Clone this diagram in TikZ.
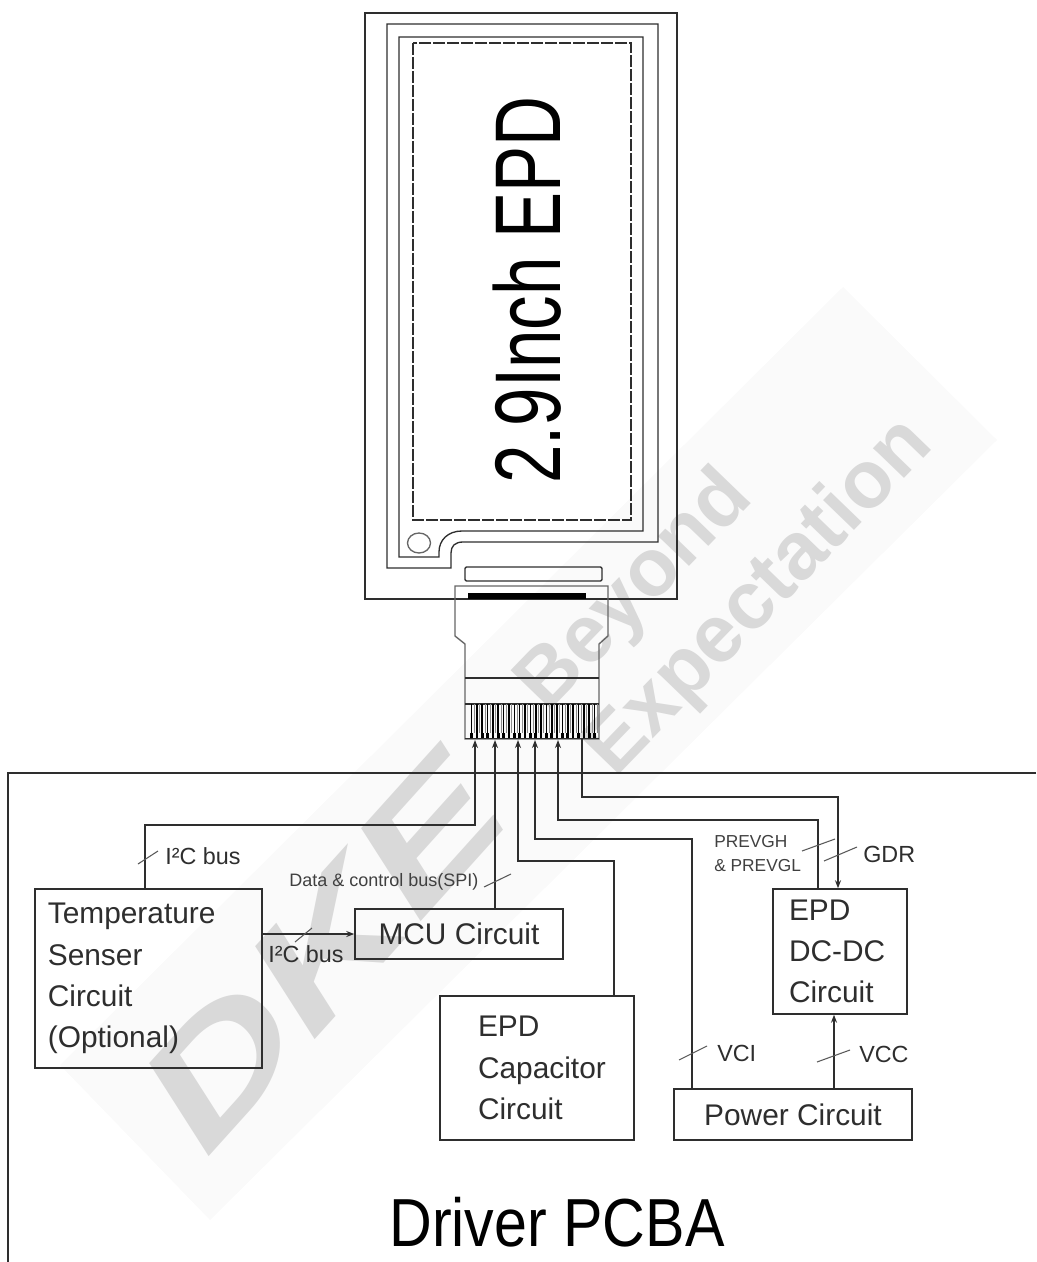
\documentclass[tikz,border=0pt]{standalone}
\usepackage{fontspec}
\setmainfont{Liberation Sans}
\usepackage{xcolor}
\usetikzlibrary{arrows.meta}
\definecolor{black90}{HTML}{2E2E2E}
\definecolor{stamp}{HTML}{D9D9D9}
\definecolor{band}{HTML}{FAFAFA}

\begin{document}
\begin{tikzpicture}[
    x=0.75pt, y=-0.75pt,
    circuit/.style={rectangle, draw=black90, line width=1.1pt, inner sep=0pt, text=black90, font=\fontsize{22.4}{31}\selectfont},
    stampnode/.style={text=stamp, rotate=46, inner sep=0pt, font=\fontsize{61}{61}\selectfont\bfseries},
    wire/.style={draw=black90, line width=1.1pt},
    tick/.style={draw=black!65, line width=0.8pt},
    panel/.style={draw=black90, line width=1pt},
    buslabel/.style={text=black90, inner sep=0pt, font=\fontsize{17.5}{20}\selectfont},
    smalllabel/.style={text=black!75, inner sep=0pt, font=\fontsize{13.5}{18}\selectfont},
    >={Stealth[length=6pt, width=4.5pt]}
]
    \useasboundingbox (0,0) rectangle (1036,1262);

    % watermark
    \fill[band] (843,287) -- (997,440) -- (210,1220) -- (60,1065) -- cycle;
    \node[stampnode, rotate=2, xscale=1.42, font=\fontsize{116}{116}\selectfont\bfseries\itshape] (stampDKE) at (322,952) {DKE};
    \node[stampnode] (stampBeyond) at (636,592) {Beyond};
    \node[stampnode] (stampExpect) at (760,598) {Expectation};

    % EPD panel outlines
    \draw[panel] (365,13) rectangle (677,599);
    \draw[panel] (387,24) -- (658,24) -- (658,542) -- (463,542) .. controls (455,542) and (451,546) .. (451,553) -- (451,568) -- (387,568) -- cycle;
    \draw[panel] (399,37) -- (643,37) -- (643,531) -- (462,531) .. controls (448,531) and (439,540) .. (439,552) -- (439,557) -- (399,557) -- cycle;
    \draw[panel, dashed, dash pattern=on 9pt off 1.5pt, line width=0.8pt] (413,43) rectangle (631,520);
    \draw[panel, draw=black!60] (419,543) ellipse (11.5 and 10);
    \node[text=black, inner sep=0pt, rotate=90, xscale=0.74, font=\fontsize{70}{70}\selectfont] (epdtitle) at (527,290) {2.9Inch EPD};

    % flex cable
    \draw[panel, rounded corners=1pt] (465,567) rectangle (602,581);
    \draw[panel, draw=black!60] (465,739) -- (465,644) -- (455,636) -- (455,586) -- (608,586) -- (608,636) -- (599,644) -- (599,739) -- cycle;
    \fill[black] (468,593) rectangle (586,599);
    \draw[panel] (465,678) -- (599,678);
    \draw[panel, line width=1.6pt] (465,704) -- (599,704);
    \foreach \i in {0,...,23} {
        \draw[black, line width=1.2pt] (471.5+5.35*\i,704) -- (471.5+5.35*\i,733);
        \draw[black, line width=2pt] (471.5+5.35*\i,733) -- (471.5+5.35*\i,738);
        \draw[black!45, line width=0.5pt] (474.2+5.35*\i,704) -- (474.2+5.35*\i,733);
    }
    \draw[panel, line width=0.9pt] (465,738.5) -- (599,738.5);

    % driver board
    \coordinate (boardNE) at (1036,773);
    \coordinate (boardNW) at (8,773);
    \coordinate (boardSW) at (8,1262);
    \draw[wire] (boardNE) -- (boardNW) -- (boardSW);
    \node[text=black, inner sep=0pt, xscale=0.87, font=\fontsize{51}{51}\selectfont] (boardtitle) at (557,1222) {Driver PCBA};

    % circuits
    \node[circuit, minimum width=170.25pt, minimum height=134.25pt, text width=151pt, inner xsep=9.6pt, align=left] (tempbox) at (148.5,978.5) {Temperature\\Senser\\Circuit\\(Optional)};
    \node[circuit, minimum width=156pt, minimum height=37.5pt] (mcubox) at (459,934) {MCU Circuit};
    \node[circuit, minimum width=145.5pt, minimum height=108pt, text width=88.5pt, inner xsep=28.5pt, align=left] (capbox) at (537,1068) {EPD\\\mbox{Capacitor}\\Circuit};
    \node[circuit, minimum width=178.5pt, minimum height=38.25pt] (pwrbox) at (793,1114.5) {Power Circuit};
    \node[circuit, minimum width=100.5pt, minimum height=93.75pt, text width=76.5pt, inner xsep=12pt, align=left] (dcbox) at (840,951.5) {EPD\\DC-DC\\Circuit};

    % pins and wire bends
    \coordinate (pinA) at (475,740);
    \coordinate (pinB) at (495,740);
    \coordinate (pinC) at (518,740);
    \coordinate (pinD) at (535,740);
    \coordinate (pinE) at (558,740);
    \coordinate (pinF) at (582,739);
    \coordinate (busT) at (145,825);
    \coordinate (busC) at (614,861);
    \coordinate (busP) at (692,839);
    \coordinate (busV) at (818,820);
    \coordinate (busG) at (838,797);
    \coordinate (busS) at (834,1050);

    \draw[wire, ->] (tempbox.north -| busT) -- (busT) -- (pinA |- busT) -- (pinA);
    \draw[wire, ->] (mcubox.north -| pinB) -- (pinB);
    \draw[wire, ->] (capbox.north -| busC) -- (busC) -- (pinC |- busC) -- (pinC);
    \draw[wire, ->] (pwrbox.north -| busP) -- (busP) -- (pinD |- busP) -- (pinD);
    \draw[wire, ->] (dcbox.north -| busV) -- (busV) -- (pinE |- busV) -- (pinE);
    \draw[wire, ->] (pinF) -- (pinF |- busG) -- (busG) -- (dcbox.north -| busG);
    \draw[wire, ->] (pwrbox.north -| busS) -- (dcbox.south -| busS);
    \draw[wire, ->] (mcubox.west -| tempbox.east) -- (mcubox.west);

    % slashes on the buses
    \draw[tick] (138,864) -- (158,851);
    \draw[tick] (484,887) -- (511,874);
    \draw[tick] (295,942) -- (312,928);
    \draw[tick] (802,851) -- (835,839);
    \draw[tick] (824,861) -- (857,847);
    \draw[tick] (679,1060) -- (707,1046);
    \draw[tick] (817,1062) -- (850,1050);

    \node[buslabel, anchor=west] (i2cA) at (165,856) {I²C bus};
    \node[buslabel, anchor=west] (i2cB) at (268,954) {I²C bus};
    \node[smalllabel, anchor=west] (spi) at (289,882) {Data \& control bus(SPI)};
    \node[smalllabel, anchor=west, font=\fontsize{13}{18}\selectfont, align=left] (prev) at (714,854) {PREVGH\\\& PREVGL};
    \node[buslabel, anchor=west] (gdr) at (863,854) {GDR};
    \node[buslabel, anchor=west] (vci) at (717,1053) {VCI};
    \node[buslabel, anchor=west] (vcc) at (859,1054) {VCC};
\end{tikzpicture}
\end{document}
